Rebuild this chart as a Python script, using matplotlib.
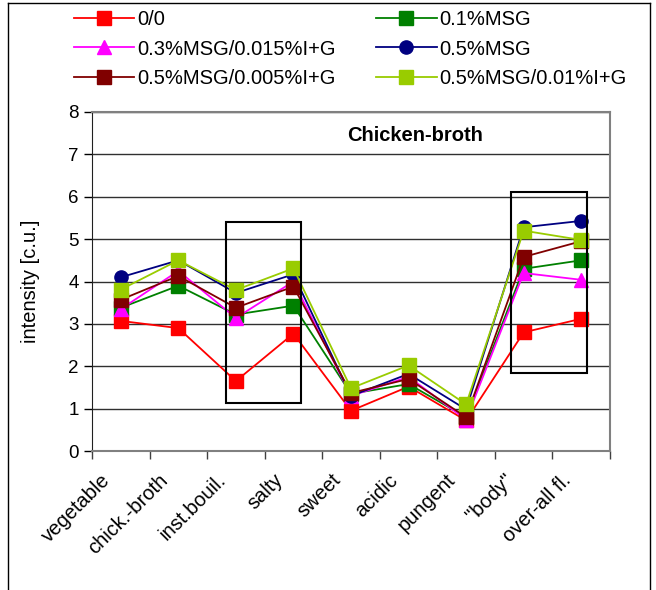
import numpy as np
import matplotlib.pyplot as plt
import matplotlib.transforms as mtransforms
from matplotlib.patches import Rectangle
from matplotlib.lines import Line2D

plt.rcParams['font.family'] = ['Liberation Sans', 'DejaVu Sans']

# attributes on the x axis
attributes = ['vegetable', 'chick.-broth', 'inst.bouil.', 'salty', 'sweet',
              'acidic', 'pungent', '"body"', 'over-all fl.']

# mean intensities per sample
s_00 = [3.07, 2.90, 1.65, 2.77, 0.95, 1.52, 0.72, 2.80, 3.12]
s_01msg = [3.38, 3.90, 3.22, 3.43, 1.35, 1.58, 0.80, 4.30, 4.50]
s_03msg_ig = [3.35, 4.25, 3.14, 4.00, 1.30, 1.75, 0.74, 4.20, 4.04]
s_05msg = [4.10, 4.50, 3.73, 4.17, 1.30, 1.82, 0.98, 5.28, 5.43]
s_05msg_005ig = [3.57, 4.13, 3.38, 3.88, 1.37, 1.70, 0.80, 4.58, 4.95]
s_05msg_01ig = [3.81, 4.50, 3.80, 4.31, 1.48, 2.02, 1.10, 5.20, 4.98]

labels = ['0/0', '0.1%MSG', '0.3%MSG/0.015%I+G', '0.5%MSG',
          '0.5%MSG/0.005%I+G', '0.5%MSG/0.01%I+G']
colors = ['#FF0000', '#008000', '#FF00FF', '#000080', '#800000', '#99CC00']
markers = ['s', 's', '^', 'o', 's', 's']
series = [s_00, s_01msg, s_03msg_ig, s_05msg, s_05msg_005ig, s_05msg_01ig]

x = np.arange(len(attributes))

fig = plt.figure(figsize=(6.56, 5.90), dpi=100)
ax = fig.add_axes([92/656, 1-451/590, 518/656, 339/590])

handles = []
for vals, lab, c, m in zip(series, labels, colors, markers):
    h, = ax.plot(x, vals, color=c, marker=m, markersize=9.5, lw=1.3,
                 label=lab, clip_on=False)
    handles.append(h)

ax.set_xlim(-0.5, len(attributes) - 0.5)
ax.set_ylim(0, 8)
ax.set_yticks(range(0, 9))
ax.yaxis.grid(True, color='#303030', lw=1.0)
ax.set_axisbelow(True)
ax.tick_params(axis='y', labelsize=13.5, direction='out', length=6, width=1)

# category ticks sit between the labels
ax.set_xticks(np.arange(len(attributes) + 1) - 0.5)
ax.set_xticklabels([])
ax.set_xticks(x, minor=True)
ax.set_xticklabels(attributes, minor=True, rotation=45, ha='right',
                   va='top', rotation_mode='anchor', fontsize=14.5)
ax.tick_params(axis='x', which='major', direction='out', length=6, width=1,
               color='#404040')
ax.tick_params(axis='x', which='minor', length=0, pad=6)
shift = mtransforms.ScaledTranslation(-0.2, -0.11, fig.dpi_scale_trans)
for t in ax.get_xticklabels(minor=True):
    t.set_transform(t.get_transform() + shift)

for side in ['top', 'right', 'bottom']:
    ax.spines[side].set_color('#808080')
    ax.spines[side].set_linewidth(1.5)
ax.spines['left'].set_color('#202020')

ax.set_ylabel('intensity [c.u.]', fontsize=14.5)
ax.yaxis.set_label_coords(-0.1, 0.5)

ax.text(0.623, 0.932, 'Chicken-broth', transform=ax.transAxes,
        fontsize=14.5, fontweight='bold', ha='center', va='center')

# highlight boxes
ax.add_patch(Rectangle((1.82, 1.13), 1.31, 4.28, fill=False, ec='black',
                       lw=1.5, zorder=5))
ax.add_patch(Rectangle((6.78, 1.85), 1.32, 4.27, fill=False, ec='black',
                       lw=1.5, zorder=5))

# legend filled row by row
order = [0, 2, 4, 1, 3, 5]
fig.legend([handles[i] for i in order], [labels[i] for i in order],
           loc='upper left', bbox_to_anchor=(64/656, 1 - 0/590), ncol=2,
           frameon=False, fontsize=14.5, handlelength=3.0,
           handletextpad=0.15, columnspacing=2.0, labelspacing=0.52,
           borderpad=0.0)

# outer frame
fig.add_artist(Line2D([8/656, 8/656], [0, 1-3/590], color='black', lw=1))
fig.add_artist(Line2D([8/656, 650/656], [1-3/590, 1-3/590], color='black',
                      lw=1))
fig.add_artist(Line2D([650/656, 650/656], [0, 1-3/590], color='black', lw=1))

fig.savefig('out.png', dpi=100)
